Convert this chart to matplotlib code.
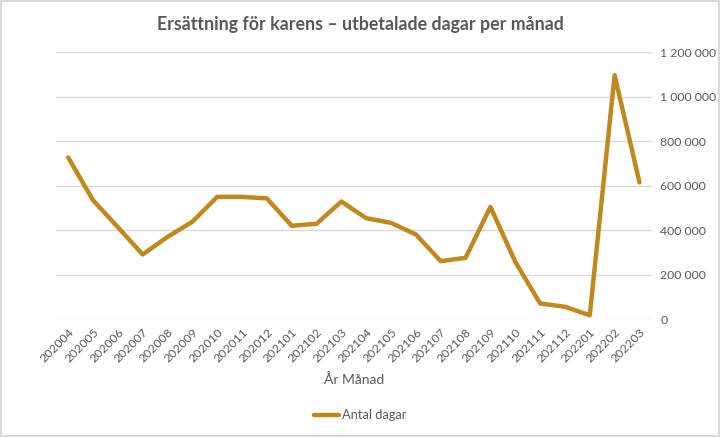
import matplotlib
matplotlib.use("Agg")
import matplotlib.pyplot as plt
from matplotlib.ticker import FuncFormatter, FixedLocator

months = ["202004", "202005", "202006", "202007", "202008", "202009", "202010",
          "202011", "202012", "202101", "202102", "202103", "202104", "202105",
          "202106", "202107", "202108", "202109", "202110", "202111", "202112",
          "202201", "202202", "202203"]
antal_dagar = [728000, 536000, 415000, 292000, 371000, 439000, 551000,
               551000, 544000, 421000, 430000, 530000, 455000, 434000,
               382000, 262000, 277000, 506000, 259000, 72000, 57000,
               19000, 1098000, 616000]
y_ticks = [0, 200000, 400000, 600000, 800000, 1000000, 1200000]

plt.rcParams['font.family'] = ['Lato', 'DejaVu Sans']
text_col = "#595959"
line_col = "#C0891F"

fig = plt.figure(figsize=(7.2, 4.37), dpi=100)
fig.patch.set_facecolor("white")
fig.patch.set_edgecolor("#D9D9D9")
fig.patch.set_linewidth(1.5)

ax = fig.add_axes([0.0774, 0.269, 0.828, 0.611])
x = list(range(len(months)))
ax.plot(x, antal_dagar, color=line_col, linewidth=3.2, solid_capstyle="round",
        solid_joinstyle="round", label="Antal dagar", zorder=3)

ax.set_xlim(-0.5, len(months) - 0.5)
ax.set_ylim(0, 1200000)
ax.yaxis.set_major_locator(FixedLocator(y_ticks))
ax.yaxis.tick_right()
ax.yaxis.set_major_formatter(FuncFormatter(lambda v, p: f"{int(v):,}".replace(",", " ")))
ax.grid(axis="y", color="#D9D9D9", linewidth=1)
ax.set_axisbelow(True)
for s in ["top", "left", "right", "bottom"]:
    ax.spines[s].set_visible(False)
ax.tick_params(axis="both", length=0, colors=text_col, labelsize=8.8)
ax.tick_params(axis="y", pad=6)
ax.set_xticks(x)
ax.set_xticklabels(months, rotation=45, ha="right", rotation_mode="anchor")
ax.tick_params(axis="x", pad=5)

ax.set_xlabel("År Månad", color=text_col, fontsize=10, labelpad=6)
fig.text(0.5, 0.945, "Ersättning för karens – utbetalade dagar per månad",
         ha="center", va="center", fontsize=12.8, fontweight="bold", color=text_col)

leg = fig.legend(loc="center", bbox_to_anchor=(0.5, 0.05), frameon=False,
                 fontsize=9.3, handlelength=2.0, handletextpad=0.2)
for t in leg.get_texts():
    t.set_color(text_col)

fig.savefig("out.png", dpi=100)
